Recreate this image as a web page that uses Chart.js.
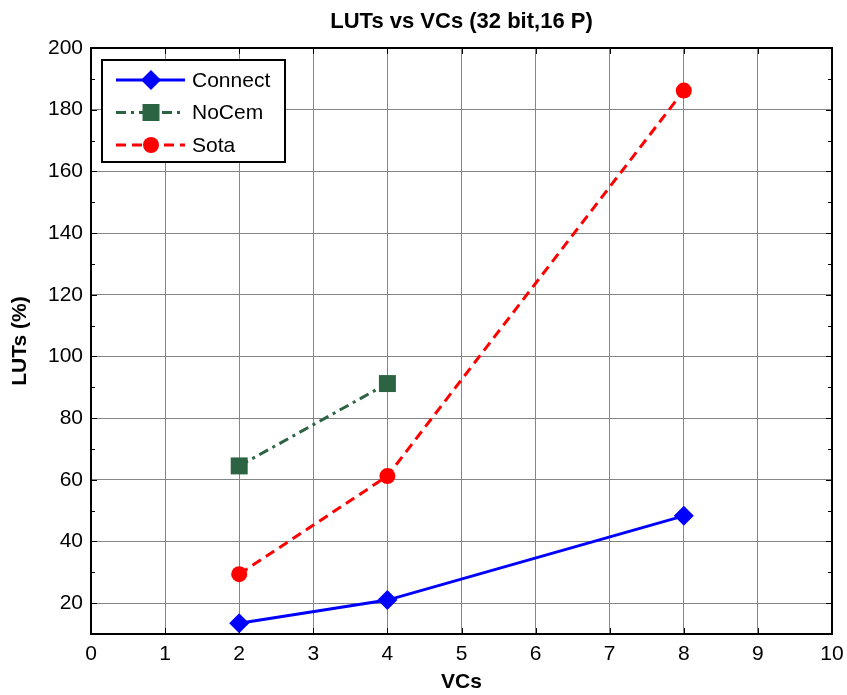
<!DOCTYPE html>
<html>
<head>
<meta charset="utf-8">
<script src="https://cdn.jsdelivr.net/npm/chart.js@4"></script>
<style>
  html,body{margin:0;padding:0;background:#fff;}
  #wrap{width:847px;height:695px;}
</style>
</head>
<body>
<div id="wrap"><canvas id="c" width="847" height="695"></canvas></div>
<script>
// LUTs vs VCs
const xTicks=[0,1,2,3,4,5,6,7,8,9,10];
const yTicks=[20,40,60,80,100,120,140,160,180,200];
const yMinor=[10,30,50,70,90,110,130,150,170,190];
const connectX=[2,4,8], connectY=[13.5,21,48.3];
const nocemX=[2,4], nocemY=[64.5,91.2];
const sotaX=[2,4,8], sotaY=[29.4,61.2,186.2];

const pts=(xs,ys)=>xs.map((x,i)=>({x,y:ys[i]}));
const FONT='Arial, "Liberation Sans", sans-serif';

// frame + inward ticks + legend box, drawn over the plot like MATLAB
const frame={
  id:'frame',
  afterDraw(chart){
    const {ctx,chartArea:a,scales:{x,y}}=chart;
    ctx.save();
    ctx.strokeStyle='#000'; ctx.lineWidth=1;
    ctx.beginPath();
    xTicks.forEach(v=>{const px=Math.round(x.getPixelForValue(v))+.5;
      ctx.moveTo(px,a.bottom); ctx.lineTo(px,a.bottom-6);
      ctx.moveTo(px,a.top); ctx.lineTo(px,a.top+6);});
    yTicks.concat(yMinor).forEach(v=>{const py=Math.round(y.getPixelForValue(v))+.5;
      const len=yTicks.includes(v)?6:4;
      ctx.moveTo(a.left,py); ctx.lineTo(a.left+len,py);
      ctx.moveTo(a.right,py); ctx.lineTo(a.right-len,py);});
    ctx.stroke();
    ctx.lineWidth=2;
    ctx.strokeRect(a.left,a.top,a.right-a.left,a.bottom-a.top);
    // legend
    const lx=a.left+11, ly=a.top+12, lw=183, lh=102;
    ctx.fillStyle='#fff'; ctx.fillRect(lx,ly,lw,lh);
    ctx.strokeRect(lx,ly,lw,lh);
    chart.data.datasets.forEach((ds,i)=>{
      const cy=ly+20+i*32.5;
      ctx.save();
      ctx.strokeStyle=ds.borderColor; ctx.lineWidth=ds.borderWidth;
      ctx.setLineDash(ds.borderDash||[]);
      ctx.beginPath(); ctx.moveTo(lx+14,cy); ctx.lineTo(lx+83,cy); ctx.stroke();
      ctx.setLineDash([]);
      ctx.fillStyle=ds.pointBackgroundColor; ctx.strokeStyle=ds.pointBackgroundColor;
      Chart.helpers.drawPoint(ctx,{pointStyle:ds.pointStyle,radius:ds.pointRadius,borderWidth:0},lx+49,cy);
      ctx.restore();
      ctx.fillStyle='#000'; ctx.font='21px '+FONT; ctx.textBaseline='middle';
      ctx.fillText(ds.label,lx+90,cy+1);
    });
    ctx.restore();
  }
};

new Chart(document.getElementById('c'),{
  type:'line',
  data:{datasets:[
    {label:'Connect',data:pts(connectX,connectY),borderColor:'#0000ff',backgroundColor:'#0000ff',
      pointBackgroundColor:'#0000ff',borderWidth:3,pointStyle:'rectRot',pointRadius:10,pointBorderWidth:0},
    {label:'NoCem',data:pts(nocemX,nocemY),borderColor:'#2b6343',backgroundColor:'#2b6343',
      pointBackgroundColor:'#2b6343',borderWidth:3,borderDash:[10,5,3,5],pointStyle:'rect',pointRadius:12,pointBorderWidth:0},
    {label:'Sota',data:pts(sotaX,sotaY),borderColor:'#ff0000',backgroundColor:'#ff0000',
      pointBackgroundColor:'#ff0000',borderWidth:3,borderDash:[10,6],pointStyle:'circle',pointRadius:8,pointBorderWidth:0}
  ]},
  options:{
    responsive:false,animation:false,
    layout:{padding:{right:15}},
    plugins:{
      legend:{display:false},tooltip:{enabled:false},
      title:{display:true,fullSize:false,text:'LUTs vs VCs (32 bit,16 P)',color:'#000',
        font:{family:FONT,size:22,weight:'bold'},padding:{top:9,bottom:12.6}}
    },
    scales:{
      x:{type:'linear',min:0,max:10,
        afterBuildTicks:s=>{s.ticks=xTicks.map(v=>({value:v}));},
        afterFit:s=>{s.height=61; s.paddingRight=0; s.paddingLeft=0;},
        grid:{color:'#858585',lineWidth:1,drawTicks:false},border:{display:false},
        ticks:{color:'#000',font:{family:FONT,size:21},padding:8,maxRotation:0},
        title:{display:true,text:'VCs',color:'#000',font:{family:FONT,size:21,weight:'bold'},padding:{top:0,bottom:0}}},
      y:{type:'linear',min:10,max:200,
        afterBuildTicks:s=>{s.ticks=yTicks.map(v=>({value:v}));},
        afterFit:s=>{s.width=91;},
        grid:{color:'#858585',lineWidth:1,drawTicks:false},border:{display:false},
        ticks:{color:'#000',font:{family:FONT,size:21},padding:8},
        title:{display:true,text:'LUTs (%)',color:'#000',font:{family:FONT,size:21,weight:'bold'},padding:{top:8,bottom:0}}}
    }
  },
  plugins:[frame]
});
</script>
</body>
</html>
